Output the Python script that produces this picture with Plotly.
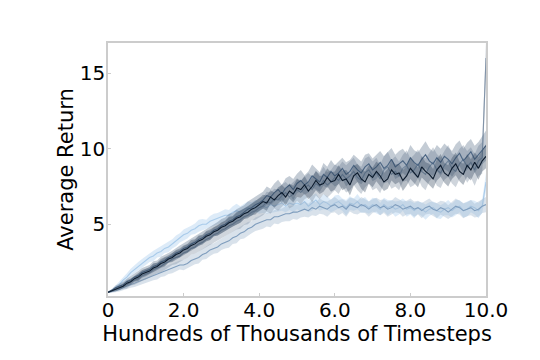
import numpy as np
import plotly.graph_objects as go

# x ticks / y ticks
x_tick_vals = [0, 2, 4, 6, 8, 10]
x_tick_text = ["0", "2.0", "4.0", "6.0", "8.0", "10.0"]
y_tick_vals = [5, 10, 15]

# mean returns, one value per 10k timesteps (0 .. 10.0)
fast_light = [
    0.5, 0.6, 0.8, 1.0, 1.3, 1.5, 1.8, 2.0, 2.2, 2.4, 2.6,
    2.8, 2.9, 3.1, 3.2, 3.4, 3.5, 3.7, 3.9, 4.1, 4.3,
    4.4, 4.6, 4.7, 4.9, 5.0, 5.0, 5.2, 5.3, 5.4, 5.5,
    5.6, 5.6, 5.8, 5.9, 5.8, 6.0, 6.1, 6.0, 6.2, 6.1,
    6.2, 6.1, 6.3, 6.2, 6.3, 6.4, 6.2, 6.4, 6.3, 6.4,
    6.3, 6.5, 6.2, 6.4, 6.6, 6.3, 6.5, 6.4, 6.2, 6.4,
    6.5, 6.3, 6.1, 6.4, 6.3, 6.5, 6.2, 6.3, 6.1, 6.3,
    6.2, 6.0, 6.3, 6.1, 6.2, 6.0, 6.1, 6.3, 6.0, 6.1,
    5.9, 6.1, 6.0, 5.8, 6.0, 6.1, 5.9, 5.8, 6.0, 6.1,
    5.9, 6.1, 6.2, 5.9, 6.0, 6.2, 6.1, 5.9, 6.2, 7.8,
]
slow_steel = [
    0.5, 0.55, 0.6, 0.7, 0.8, 0.9, 1.0, 1.1, 1.2, 1.3, 1.4,
    1.5, 1.6, 1.7, 1.8, 1.9, 2.0, 2.1, 2.2, 2.3, 2.3,
    2.4, 2.6, 2.7, 2.8, 3.0, 3.1, 3.3, 3.4, 3.5, 3.7,
    3.8, 3.9, 4.1, 4.2, 4.4, 4.5, 4.7, 4.8, 5.0, 5.1,
    5.2, 5.3, 5.3, 5.5, 5.5, 5.6, 5.7, 5.7, 5.8, 5.8,
    5.9, 6.0, 5.9, 6.1, 6.0, 6.2, 6.1, 6.0, 6.2, 6.3,
    6.1, 6.2, 6.0, 6.3, 6.2, 6.1, 6.3, 6.2, 6.0, 6.2,
    6.3, 6.1, 6.2, 6.0, 6.1, 6.3, 6.2, 6.0, 6.1, 6.2,
    6.0, 6.1, 5.9, 6.1, 6.2, 6.0, 5.9, 6.1, 6.0, 5.8,
    6.0, 6.2, 6.1, 5.9, 6.0, 6.1, 5.9, 6.0, 6.2, 6.3,
]
navy = [
    0.5, 0.6, 0.7, 0.8, 0.9, 1.1, 1.2, 1.4, 1.5, 1.7, 1.8,
    1.9, 2.1, 2.2, 2.4, 2.5, 2.7, 2.8, 3.0, 3.1, 3.3,
    3.4, 3.6, 3.7, 3.9, 4.0, 4.2, 4.3, 4.5, 4.6, 4.8,
    4.9, 5.1, 5.2, 5.4, 5.5, 5.7, 5.8, 6.0, 6.1, 6.3,
    6.5, 6.4, 6.8, 6.6, 6.9, 7.1, 6.8, 7.2, 7.0, 7.4,
    7.3, 7.6, 7.2, 7.5, 7.9, 7.6, 7.7, 8.1, 7.8, 7.9,
    8.3, 7.9, 8.0, 7.6, 8.2, 8.4, 8.0, 7.8, 8.3, 8.1,
    8.5, 8.2, 7.8, 8.0, 8.6, 8.3, 8.4, 7.9, 8.2, 8.7,
    8.4, 8.1, 8.8, 8.5, 8.3, 8.0, 8.6, 8.9, 8.4, 8.2,
    8.7, 9.0, 8.5, 8.3, 8.9, 8.6, 9.1, 8.7, 9.2, 9.5,
]
slate = [
    0.5, 0.6, 0.8, 0.9, 1.0, 1.2, 1.3, 1.5, 1.6, 1.8, 1.9,
    2.0, 2.2, 2.3, 2.5, 2.6, 2.8, 2.9, 3.1, 3.2, 3.4,
    3.5, 3.7, 3.8, 4.0, 4.1, 4.3, 4.4, 4.6, 4.7, 4.9,
    5.0, 5.2, 5.3, 5.5, 5.6, 5.8, 6.0, 6.1, 6.3, 6.4,
    6.6, 6.9, 6.8, 7.1, 7.3, 7.0, 7.4, 7.6, 7.3, 7.7,
    7.9, 7.6, 7.8, 8.2, 8.0, 7.8, 8.3, 8.1, 8.5, 8.2,
    8.4, 8.7, 8.3, 8.5, 8.9, 8.6, 8.4, 8.8, 9.0, 8.6,
    8.8, 9.1, 8.7, 8.9, 9.3, 8.8, 9.0, 9.2, 8.9, 9.4,
    9.1, 8.9, 9.3, 9.6, 9.2, 9.0, 9.4, 9.1, 9.5, 9.3,
    9.0, 9.4, 9.7, 9.2, 9.5, 9.8, 9.3, 9.6, 9.9, 10.2,
]
gray = [
    0.5, 0.6, 0.7, 0.8, 0.9, 1.0, 1.2, 1.3, 1.4, 1.6, 1.7,
    1.8, 2.0, 2.1, 2.2, 2.4, 2.5, 2.7, 2.8, 2.9, 3.1,
    3.2, 3.4, 3.5, 3.7, 3.8, 4.0, 4.1, 4.3, 4.4, 4.6,
    4.7, 4.9, 5.0, 5.2, 5.3, 5.5, 5.6, 5.8, 5.9, 6.1,
    6.2, 6.5, 6.4, 6.7, 6.6, 6.9, 7.1, 6.8, 7.0, 7.3,
    7.1, 7.4, 7.6, 7.3, 7.7, 7.5, 7.9, 7.6, 7.8, 8.1,
    7.9, 8.3, 8.0, 8.2, 8.5, 8.1, 7.9, 8.4, 8.6, 8.2,
    8.4, 8.0, 8.6, 8.8, 8.3, 8.5, 8.2, 8.7, 8.9, 8.4,
    8.6, 9.0, 8.5, 8.3, 8.8, 9.1, 8.6, 8.4, 8.9, 9.2,
    8.7, 8.5, 9.0, 9.3, 8.8, 9.1, 8.6, 9.2, 9.4, 16.0,
]

# spread around each mean
fast_light_sd = [
    0.05, 0.1, 0.15, 0.2, 0.2, 0.25, 0.25, 0.3, 0.3, 0.3, 0.3,
    0.3, 0.35, 0.3, 0.35, 0.3, 0.35, 0.3, 0.35, 0.3, 0.35,
    0.35, 0.3, 0.35, 0.4, 0.35, 0.3, 0.35, 0.4, 0.35, 0.4,
    0.4, 0.35, 0.4, 0.45, 0.4, 0.35, 0.4, 0.45, 0.4, 0.4,
    0.45, 0.4, 0.5, 0.4, 0.45, 0.5, 0.4, 0.45, 0.5, 0.4,
    0.45, 0.5, 0.4, 0.5, 0.45, 0.4, 0.5, 0.45, 0.4, 0.5,
    0.45, 0.4, 0.5, 0.45, 0.4, 0.5, 0.45, 0.5, 0.4, 0.45,
    0.5, 0.4, 0.45, 0.5, 0.4, 0.5, 0.45, 0.4, 0.5, 0.45,
    0.5, 0.4, 0.45, 0.5, 0.45, 0.4, 0.5, 0.45, 0.4, 0.5,
    0.45, 0.5, 0.4, 0.45, 0.5, 0.4, 0.45, 0.5, 0.45, 0.6,
]
slow_steel_sd = [
    0.05, 0.1, 0.1, 0.15, 0.15, 0.2, 0.2, 0.25, 0.25, 0.3, 0.3,
    0.3, 0.3, 0.35, 0.3, 0.35, 0.3, 0.35, 0.35, 0.3, 0.35,
    0.35, 0.4, 0.35, 0.4, 0.35, 0.4, 0.4, 0.35, 0.4, 0.4,
    0.4, 0.45, 0.4, 0.45, 0.4, 0.45, 0.45, 0.4, 0.45, 0.45,
    0.5, 0.45, 0.5, 0.45, 0.5, 0.45, 0.5, 0.5, 0.45, 0.5,
    0.45, 0.5, 0.45, 0.5, 0.45, 0.5, 0.45, 0.5, 0.45, 0.5,
    0.5, 0.45, 0.5, 0.45, 0.5, 0.45, 0.5, 0.45, 0.5, 0.45,
    0.45, 0.5, 0.45, 0.5, 0.45, 0.5, 0.45, 0.5, 0.45, 0.5,
    0.5, 0.45, 0.5, 0.45, 0.5, 0.45, 0.5, 0.45, 0.5, 0.45,
    0.45, 0.5, 0.45, 0.5, 0.45, 0.5, 0.45, 0.5, 0.45, 0.5,
]
navy_sd = [
    0.05, 0.1, 0.1, 0.15, 0.15, 0.2, 0.2, 0.2, 0.25, 0.25, 0.25,
    0.25, 0.3, 0.25, 0.3, 0.3, 0.25, 0.3, 0.3, 0.3, 0.3,
    0.3, 0.35, 0.3, 0.35, 0.3, 0.35, 0.35, 0.3, 0.35, 0.35,
    0.35, 0.4, 0.35, 0.4, 0.4, 0.35, 0.4, 0.4, 0.45, 0.4,
    0.45, 0.5, 0.45, 0.5, 0.55, 0.5, 0.55, 0.5, 0.55, 0.6,
    0.55, 0.6, 0.55, 0.6, 0.65, 0.6, 0.55, 0.6, 0.65, 0.6,
    0.6, 0.65, 0.6, 0.7, 0.65, 0.6, 0.65, 0.7, 0.6, 0.65,
    0.65, 0.7, 0.6, 0.65, 0.7, 0.65, 0.6, 0.7, 0.65, 0.7,
    0.7, 0.65, 0.7, 0.6, 0.7, 0.65, 0.7, 0.75, 0.65, 0.7,
    0.7, 0.75, 0.65, 0.7, 0.75, 0.7, 0.65, 0.75, 0.7, 0.8,
]
slate_sd = [
    0.05, 0.1, 0.15, 0.15, 0.2, 0.2, 0.25, 0.25, 0.3, 0.3, 0.3,
    0.3, 0.35, 0.3, 0.35, 0.35, 0.3, 0.35, 0.35, 0.4, 0.35,
    0.4, 0.35, 0.4, 0.4, 0.45, 0.4, 0.45, 0.4, 0.45, 0.45,
    0.45, 0.5, 0.45, 0.5, 0.5, 0.45, 0.5, 0.55, 0.5, 0.55,
    0.55, 0.6, 0.55, 0.6, 0.65, 0.6, 0.65, 0.6, 0.7, 0.65,
    0.7, 0.65, 0.7, 0.75, 0.7, 0.65, 0.75, 0.7, 0.75, 0.7,
    0.75, 0.7, 0.8, 0.75, 0.7, 0.8, 0.75, 0.8, 0.7, 0.75,
    0.8, 0.75, 0.8, 0.85, 0.75, 0.8, 0.85, 0.8, 0.75, 0.85,
    0.8, 0.85, 0.8, 0.9, 0.85, 0.8, 0.85, 0.9, 0.85, 0.8,
    0.85, 0.9, 0.85, 0.8, 0.9, 0.85, 0.9, 0.85, 0.9, 1.0,
]
gray_sd = [
    0.05, 0.1, 0.15, 0.2, 0.2, 0.25, 0.25, 0.3, 0.3, 0.35, 0.35,
    0.35, 0.4, 0.35, 0.4, 0.4, 0.35, 0.4, 0.45, 0.4, 0.45,
    0.45, 0.4, 0.45, 0.5, 0.45, 0.5, 0.45, 0.5, 0.5, 0.55,
    0.5, 0.55, 0.5, 0.55, 0.6, 0.55, 0.6, 0.55, 0.6, 0.65,
    0.6, 0.65, 0.7, 0.65, 0.7, 0.75, 0.7, 0.75, 0.8, 0.75,
    0.8, 0.75, 0.8, 0.85, 0.8, 0.85, 0.9, 0.85, 0.8, 0.85,
    0.9, 0.85, 0.9, 0.95, 0.9, 0.85, 0.9, 0.95, 0.9, 0.95,
    1.0, 0.95, 0.9, 1.0, 0.95, 1.0, 0.95, 0.9, 1.0, 0.95,
    1.0, 0.95, 1.0, 1.05, 0.95, 1.0, 1.05, 1.0, 0.95, 1.05,
    1.0, 1.05, 1.0, 0.95, 1.05, 1.0, 1.05, 1.0, 1.05, 1.1,
]

timesteps = np.linspace(0, 10, len(navy))

# (mean, sd, line colour, band colour) -- drawn back to front
series = [
    (fast_light, fast_light_sd, "#a9cbea", "rgba(198,222,244,0.6)"),
    (slow_steel, slow_steel_sd, "#7f9dbd", "rgba(160,182,206,0.40)"),
    (gray, gray_sd, "#8193a8", "rgba(135,150,168,0.40)"),
    (slate, slate_sd, "#4a6482", "rgba(85,108,135,0.35)"),
    (navy, navy_sd, "#0b1a2c", "rgba(45,65,90,0.35)"),
]

fig = go.Figure()

for mean, sd, line_color, band_color in series:
    m = np.array(mean)
    s = np.array(sd)
    upper = m + s
    lower = m - s
    fig.add_trace(
        go.Scatter(
            x=np.concatenate([timesteps, timesteps[::-1]]),
            y=np.concatenate([upper, lower[::-1]]),
            fill="toself",
            fillcolor=band_color,
            line=dict(width=0),
            hoverinfo="skip",
            mode="lines",
        )
    )
    fig.add_trace(
        go.Scatter(
            x=timesteps,
            y=m,
            mode="lines",
            line=dict(color=line_color, width=1.1),
        )
    )

axis_style = dict(
    showline=True,
    mirror=True,
    linecolor="#cccccc",
    linewidth=1.5,
    ticks="inside",
    ticklen=3,
    tickcolor="#cccccc",
    showgrid=False,
    zeroline=False,
    automargin=False,
    tickfont=dict(size=20, color="black"),
)

fig.update_xaxes(
    range=[0, 10],
    tickvals=x_tick_vals,
    ticktext=x_tick_text,
    ticklabelstandoff=-5,
    title=dict(text="Hundreds of Thousands of Timesteps", font=dict(size=21), standoff=0),
    **axis_style
)
fig.update_yaxes(
    range=[0.25, 17],
    tickvals=y_tick_vals,
    ticklabelstandoff=-3,
    title=dict(text="Average Return", font=dict(size=21), standoff=0),
    **axis_style
)

# the page body adds an 8px offset, so the margins are shifted to compensate
fig.update_layout(
    width=540,
    height=360,
    margin=dict(l=100, r=62, t=35, b=72),
    plot_bgcolor="white",
    paper_bgcolor="white",
    showlegend=False,
    font=dict(family="DejaVu Sans", size=20, color="black"),
)

fig.write_html("out.html")
